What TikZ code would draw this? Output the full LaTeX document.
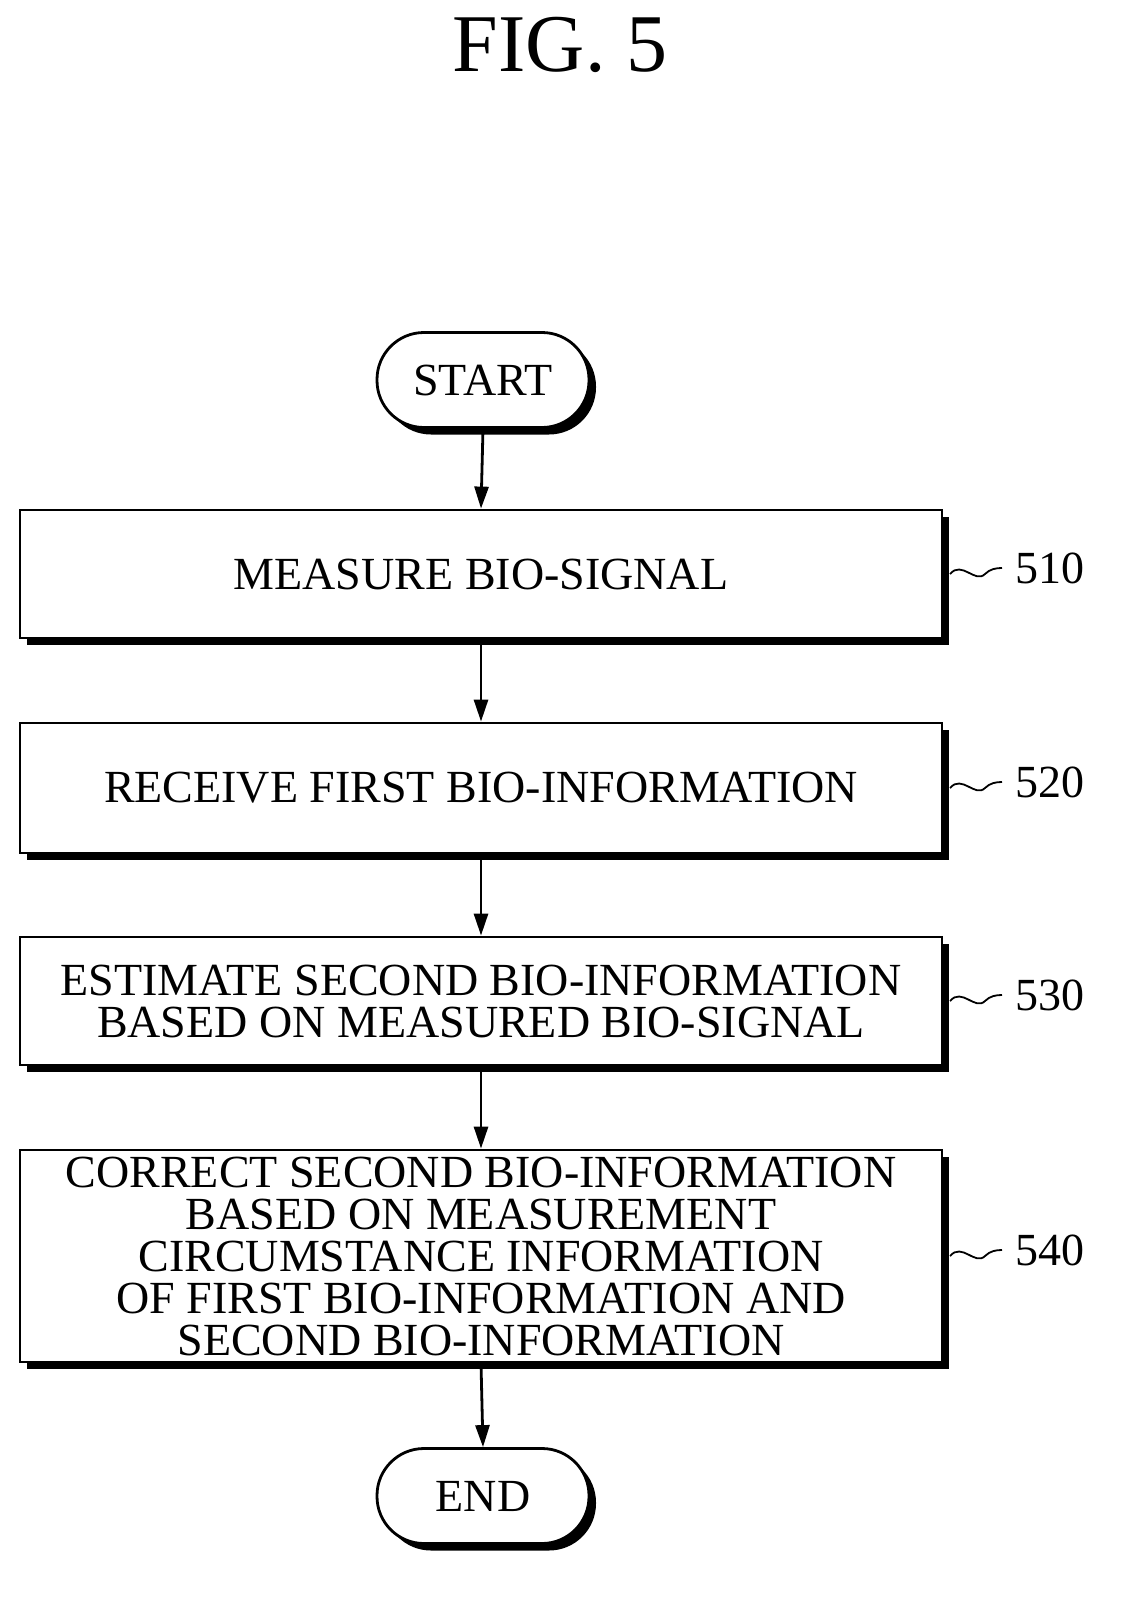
\documentclass[tikz,border=0pt]{standalone}
\usepackage{fontspec}
\setmainfont{Liberation Serif}
\usetikzlibrary{shadows,arrows.meta}
\begin{document}
\begin{tikzpicture}[x=1pt,y=-1pt,
  sh/.style={drop shadow={shadow xshift=7pt,shadow yshift=-7pt,fill=black,opacity=1}},
  box/.style={draw,line width=2.8pt,fill=white,sh,minimum width=922pt,align=center,font=\fontsize{46}{42}\selectfont,inner sep=0pt},
  term/.style={draw,line width=2.8pt,fill=white,sh,rounded corners=47pt,minimum width=212pt,minimum height=95pt,font=\fontsize{46}{42}\selectfont},
  arr/.style={line width=2.8pt,-{Triangle[length=22pt,width=14pt]}},
  lab/.style={font=\fontsize{46}{46}\selectfont,anchor=west}]
\node[font=\fontsize{82}{82}\selectfont] (title) at (560,45) {FIG. 5};
\node[term] (start) at (483,380) {START};
\node[box,minimum height=128pt] (b1) at (481,574) {MEASURE BIO-SIGNAL};
\node[box,minimum height=130pt] (b2) at (481,788) {RECEIVE FIRST BIO-INFORMATION};
\node[box,minimum height=128pt] (b3) at (481,1001) {ESTIMATE SECOND BIO-INFORMATION\\BASED ON MEASURED BIO-SIGNAL};
\node[box,minimum height=212pt] (b4) at (481,1256) {CORRECT SECOND BIO-INFORMATION\\BASED ON MEASUREMENT\\CIRCUMSTANCE INFORMATION\\OF FIRST BIO-INFORMATION AND\\SECOND BIO-INFORMATION};
\node[term] (end) at (483,1496) {END};
\draw[arr] (start.south) -- (b1.north);
\draw[arr] (b1.south) -- (b2.north);
\draw[arr] (b2.south) -- (b3.north);
\draw[arr] (b3.south) -- (b4.north);
\draw[arr] (b4.south) -- (end.north);
\foreach \n/\y/\t in {l1/574/510,l2/788/520,l3/1001/530,l4/1256/540}{
  \coordinate (\n a) at (950,\y);
  \node[lab] (\n) at (1012,\y-6) {\t};
  \draw[line width=1.8pt] (\n a) .. controls (962,\y-14) and (975,\y+10) .. (985,\y) .. controls (990,\y-5) and (996,\y-6) .. (1002,\y-6);
}
\pgfresetboundingbox
\useasboundingbox (0,0) rectangle (1143,1624);
\end{tikzpicture}
\end{document}
